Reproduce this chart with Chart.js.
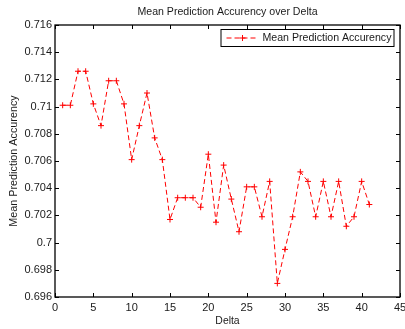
<!DOCTYPE html>
<html>
<head>
<meta charset="utf-8">
<script src="https://cdn.jsdelivr.net/npm/chart.js@4.4.1/dist/chart.umd.min.js"></script>
<style>
    html, body { margin: 0; padding: 0; background: #fff; }
    canvas { display: block; }
</style>
</head>
<body>
<canvas id="accChart" width="405" height="329"></canvas>
<script>
const chartTitle = 'Mean Prediction Accurency over Delta';
const seriesLabel = 'Mean Prediction Accurency';
const deltas = [1, 2, 3, 4, 5, 6, 7, 8, 9, 10, 11, 12, 13, 14, 15, 16, 17, 18, 19, 20,
    21, 22, 23, 24, 25, 26, 27, 28, 29, 30, 31, 32, 33, 34, 35, 36, 37, 38, 39, 40, 41];
const accuracy = [0.7101, 0.7101, 0.7126, 0.7126, 0.7102, 0.7086, 0.7119, 0.7119, 0.7102, 0.7061,
    0.7086, 0.7110, 0.7077, 0.7061, 0.7017, 0.7033, 0.7033, 0.7033, 0.7026, 0.7065,
    0.7015, 0.7057, 0.7032, 0.7008, 0.7041, 0.7041, 0.7019, 0.7045, 0.6970, 0.6995,
    0.7019, 0.7052, 0.7045, 0.7019, 0.7045, 0.7019, 0.7045, 0.7012, 0.7019, 0.7045, 0.7028];
const xTicks = [0, 5, 10, 15, 20, 25, 30, 35, 40, 45];
const yTicks = [0.696, 0.698, 0.7, 0.702, 0.704, 0.706, 0.708, 0.71, 0.712, 0.714, 0.716];

const FONT = 'Liberation Sans, Arial, Helvetica, sans-serif';
const RED = '#ff0000';
const TEXT = '#1a1a1a';

// matlab style box with inward ticks on all four sides
const matlabBox = {
    id: 'matlabBox',
    afterDatasetsDraw(chart) {
        const { ctx, chartArea: a, scales } = chart;
        const len = 4;
        ctx.save();
        ctx.strokeStyle = '#000';
        ctx.lineWidth = 1;
        ctx.beginPath();
        scales.x.ticks.forEach(t => {
            const px = Math.round(scales.x.getPixelForValue(t.value)) + 0.5;
            ctx.moveTo(px, a.bottom); ctx.lineTo(px, a.bottom - len);
            ctx.moveTo(px, a.top); ctx.lineTo(px, a.top + len);
        });
        scales.y.ticks.forEach(t => {
            const py = Math.round(scales.y.getPixelForValue(t.value)) + 0.5;
            ctx.moveTo(a.left, py); ctx.lineTo(a.left + len, py);
            ctx.moveTo(a.right, py); ctx.lineTo(a.right - len, py);
        });
        ctx.stroke();
        ctx.lineWidth = 1.3;
        ctx.strokeRect(a.left, a.top, a.right - a.left, a.bottom - a.top);
        ctx.restore();
    }
};

// title centred over the axes, not the whole canvas
const axesTitle = {
    id: 'axesTitle',
    afterDraw(chart) {
        const { ctx, chartArea: a } = chart;
        ctx.save();
        ctx.fillStyle = TEXT;
        ctx.font = '10.6px ' + FONT;
        ctx.textAlign = 'center';
        ctx.textBaseline = 'middle';
        ctx.fillText(chartTitle, (a.left + a.right) / 2, 12.5);
        ctx.restore();
    }
};

// legend box in the top right corner of the axes
const boxLegend = {
    id: 'boxLegend',
    afterDraw(chart) {
        const { ctx, chartArea: a } = chart;
        const ds = chart.data.datasets[0];
        const w = 173, h = 17;
        const x0 = a.right - 6.5 - w;
        const y0 = a.top + 4;
        ctx.save();
        ctx.fillStyle = '#fff';
        ctx.fillRect(x0, y0, w, h);
        ctx.strokeStyle = '#000';
        ctx.lineWidth = 1;
        ctx.strokeRect(x0 + 0.5, y0 + 0.5, w, h);

        const cy = y0 + h / 2 + 0.5;
        ctx.strokeStyle = RED;
        ctx.setLineDash([5, 3]);
        ctx.beginPath();
        ctx.moveTo(x0 + 6, cy);
        ctx.lineTo(x0 + 38, cy);
        ctx.stroke();
        ctx.setLineDash([]);
        ctx.beginPath();
        ctx.moveTo(x0 + 22 - 3, cy); ctx.lineTo(x0 + 22 + 3, cy);
        ctx.moveTo(x0 + 22, cy - 3); ctx.lineTo(x0 + 22, cy + 3);
        ctx.stroke();

        ctx.fillStyle = TEXT;
        ctx.font = '10.6px ' + FONT;
        ctx.textBaseline = 'middle';
        ctx.textAlign = 'left';
        ctx.fillText(ds.label, x0 + 42, cy);
        ctx.restore();
    }
};

const ctx = document.getElementById('accChart').getContext('2d');

new Chart(ctx, {
    type: 'line',
    data: {
        datasets: [{
            label: seriesLabel,
            data: deltas.map((d, i) => ({ x: d, y: accuracy[i] })),
            borderColor: RED,
            borderWidth: 1,
            borderDash: [5, 3],
            pointStyle: 'cross',
            pointRadius: 3,
            pointBorderColor: RED,
            pointBorderWidth: 1,
            fill: false,
            tension: 0
        }]
    },
    options: {
        responsive: false,
        animation: false,
        devicePixelRatio: 1,
        layout: { padding: { left: 0, right: 3.5, top: 25, bottom: 0 } },
        plugins: {
            legend: { display: false },
            tooltip: { enabled: false },
            title: { display: false }
        },
        scales: {
            x: {
                type: 'linear',
                min: 0,
                max: 45,
                afterBuildTicks: scale => { scale.ticks = xTicks.map(v => ({ value: v })); },
                afterFit: scale => {
                    scale.height = 32;
                    // let the last label run off the canvas like the original
                    scale.paddingLeft = 0;
                    scale.paddingRight = 0;
                },
                grid: { display: false, drawTicks: false },
                border: { display: false },
                ticks: {
                    color: TEXT,
                    padding: 4,
                    maxRotation: 0,
                    autoSkip: false,
                    font: { family: FONT, size: 11 },
                    callback: v => String(v)
                },
                title: {
                    display: true,
                    text: 'Delta',
                    color: TEXT,
                    font: { family: FONT, size: 10.4 },
                    padding: { top: 0, bottom: 2 }
                }
            },
            y: {
                type: 'linear',
                min: 0.696,
                max: 0.716,
                afterBuildTicks: scale => { scale.ticks = yTicks.map(v => ({ value: v })); },
                afterFit: scale => {
                    scale.width = 55;
                    scale.paddingTop = 0;
                    scale.paddingBottom = 0;
                },
                grid: { display: false, drawTicks: false },
                border: { display: false },
                ticks: {
                    color: TEXT,
                    padding: 3,
                    autoSkip: false,
                    font: { family: FONT, size: 11 },
                    callback: v => String(Number(v.toFixed(3)))
                },
                title: {
                    display: true,
                    text: 'Mean Prediction Accurency',
                    color: TEXT,
                    font: { family: FONT, size: 10.8 },
                    padding: { top: 8, bottom: 0 }
                }
            }
        }
    },
    plugins: [matlabBox, axesTitle, boxLegend]
});
</script>
</body>
</html>
